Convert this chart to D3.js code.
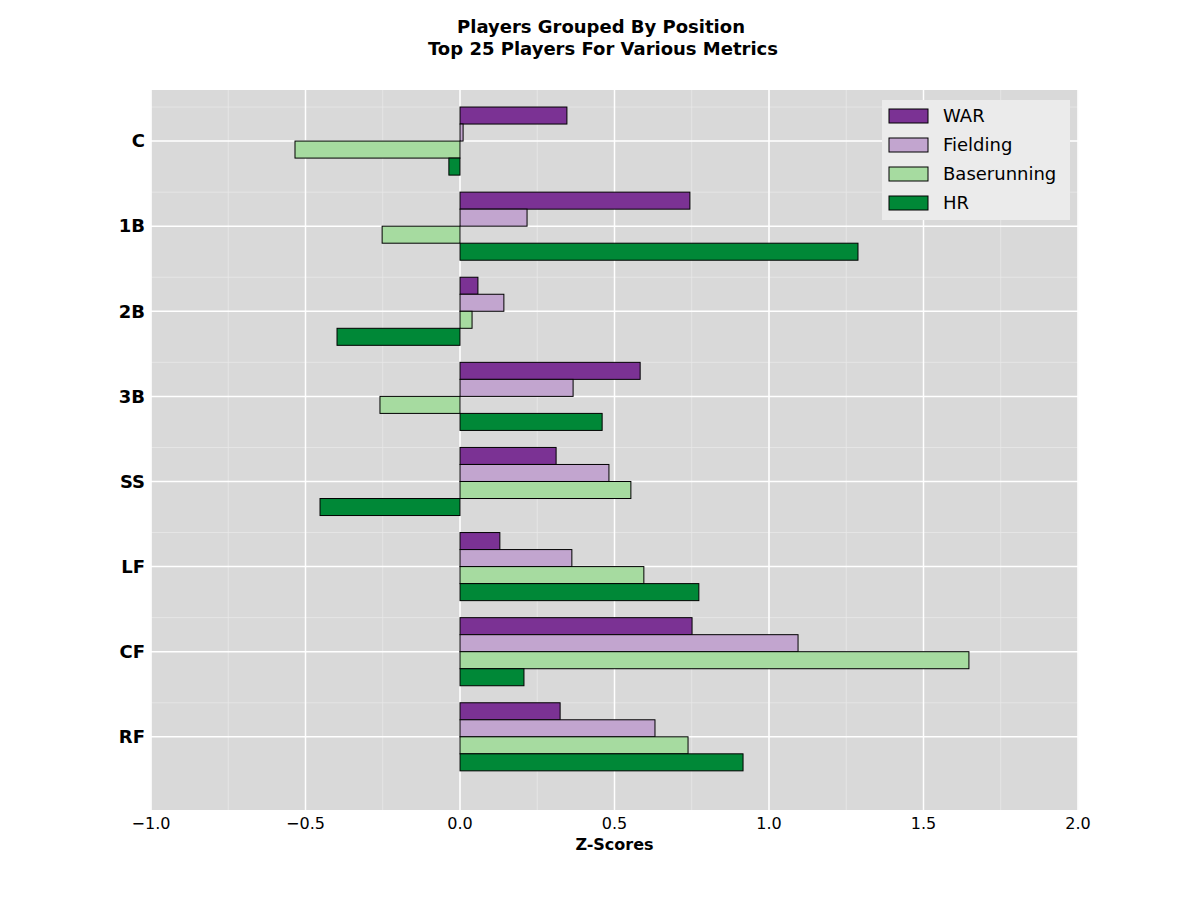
<!DOCTYPE html>
<html><head><meta charset="utf-8">
<script src="https://cdn.jsdelivr.net/npm/d3@7"></script>
<style>body{margin:0;background:#fff;font-family:"DejaVu Sans",sans-serif;}</style>
</head><body><div id="chart"></div>
<script>
const positions = ["C", "1B", "2B", "3B", "SS", "LF", "CF", "RF"];
const metrics = ["WAR", "Fielding", "Baserunning", "HR"];
const colors = ["#7b3294", "#c2a5cf", "#a6dba0", "#008837"];
const war = [0.346, 0.744, 0.058, 0.583, 0.311, 0.129, 0.751, 0.324];
const fielding = [0.01, 0.217, 0.142, 0.366, 0.482, 0.362, 1.094, 0.631];
const baserunning = [-0.534, -0.252, 0.039, -0.259, 0.553, 0.595, 1.647, 0.738];
const hr = [-0.036, 1.288, -0.398, 0.46, -0.453, 0.773, 0.207, 0.916];
const xTicks = [-1.0, -0.5, 0.0, 0.5, 1.0, 1.5, 2.0];
const series = [war, fielding, baserunning, hr];

const margin = {top: 90, right: 122, bottom: 90, left: 151},
  width = 1200 - margin.left - margin.right,
  height = 900 - margin.top - margin.bottom;

const svg = d3.select("#chart").append("svg")
  .attr("width", 1200).attr("height", 900);

svg.append("text").attr("x", 601).attr("y", 33).attr("text-anchor", "middle")
  .attr("font-size", 18).attr("font-weight", "bold").text("Players Grouped By Position");
svg.append("text").attr("x", 603).attr("y", 55).attr("text-anchor", "middle")
  .attr("font-size", 18).attr("font-weight", "bold").text("Top 25 Players For Various Metrics");

const g = svg.append("g").attr("transform", "translate(" + margin.left + "," + margin.top + ")");

const x = d3.scaleLinear().domain([-1, 2]).range([0, width]);
// y in category-index units
const y = d3.scaleLinear().domain([-0.6, positions.length - 1 + 0.86]).range([0, height]);
const barH = 0.2;

g.append("rect").attr("width", width).attr("height", height).attr("fill", "#d9d9d9");

// minor grid
d3.range(-1, 2.001, 0.25).forEach(v => {
  g.append("line").attr("x1", x(v)).attr("x2", x(v)).attr("y1", 0).attr("y2", height)
    .attr("stroke", "#e8e8e8").attr("stroke-width", 0.8);
});
positions.forEach((p, i) => {
  [i - 0.4].forEach(v => g.append("line").attr("x1", 0).attr("x2", width)
    .attr("y1", y(v)).attr("y2", y(v)).attr("stroke", "#e8e8e8").attr("stroke-width", 0.8));
});
// major grid
xTicks.forEach(v => g.append("line").attr("x1", x(v)).attr("x2", x(v)).attr("y1", 0).attr("y2", height)
  .attr("stroke", "#fff").attr("stroke-width", 1.5));
positions.forEach((p, i) => g.append("line").attr("x1", 0).attr("x2", width)
  .attr("y1", y(i)).attr("y2", y(i)).attr("stroke", "#fff").attr("stroke-width", 1.5));

// bars
series.forEach((vals, k) => {
  g.selectAll(".bar" + k).data(vals).enter().append("rect")
    .attr("x", d => x(Math.min(0, d)))
    .attr("width", d => Math.abs(x(d) - x(0)))
    .attr("y", (d, i) => y(i - 0.4 + k * barH))
    .attr("height", y(barH) - y(0))
    .attr("fill", colors[k]).attr("stroke", "#000").attr("stroke-width", 1);
});

// axes
const fmt = v => (v < 0 ? "\u2212" : "") + Math.abs(v).toFixed(1);
g.selectAll(".xt").data(xTicks).enter().append("text")
  .attr("x", d => x(d)).attr("y", height + 19).attr("text-anchor", "middle")
  .attr("font-size", 16).text(fmt);
g.selectAll(".yt").data(positions).enter().append("text")
  .attr("x", -6).attr("y", (d, i) => y(i)).attr("dy", "0.35em").attr("text-anchor", "end")
  .attr("font-size", 18).attr("font-weight", "bold").text(d => d);
g.append("text").attr("x", width / 2).attr("y", height + 40).attr("text-anchor", "middle")
  .attr("font-size", 16).attr("font-weight", "bold").text("Z-Scores");

// legend
const lg = g.append("g").attr("transform", "translate(" + (882 - margin.left) + "," + (100 - margin.top) + ")");
lg.append("rect").attr("width", 188).attr("height", 120).attr("fill", "#ebebeb");
metrics.forEach((m, k) => {
  lg.append("rect").attr("x", 7).attr("y", 9 + k * 29).attr("width", 39).attr("height", 14)
    .attr("fill", colors[k]).attr("stroke", "#000");
  lg.append("text").attr("x", 61).attr("y", 16 + k * 29).attr("dy", "0.35em")
    .attr("font-size", 18).text(m);
});
</script></body></html>
